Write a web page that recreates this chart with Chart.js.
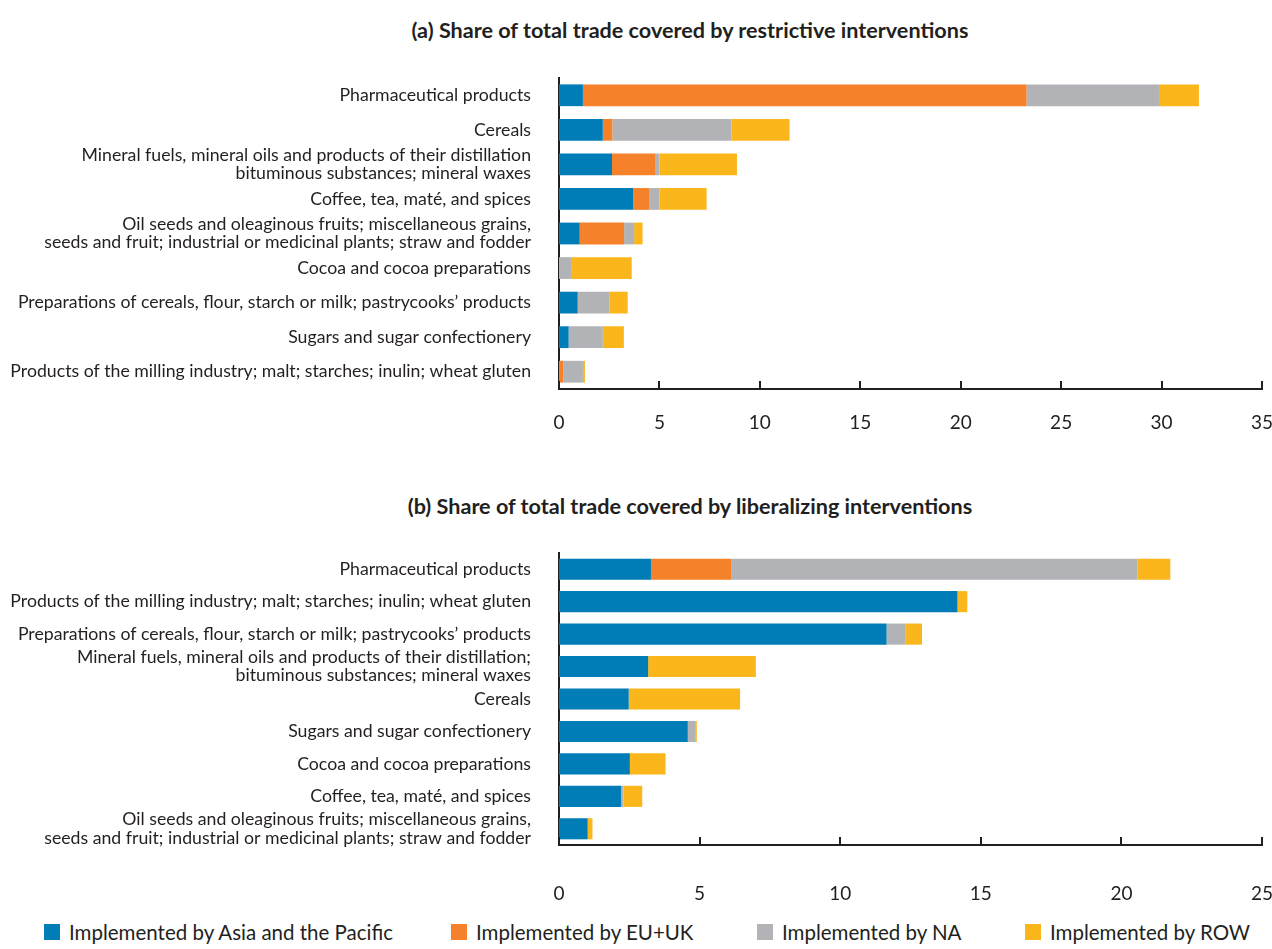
<!DOCTYPE html>
<html>
<head>
<meta charset="utf-8">
<script src="https://cdn.jsdelivr.net/npm/chart.js@4.4.0/dist/chart.umd.min.js"></script>
<style>
  body { margin: 0; background: #fff; }
  #page { position: relative; width: 1272px; height: 949px; font-family: Lato, sans-serif; color: #231f20; }
  .title { position: absolute; left: 690px; transform: translate(-50%, -50%); white-space: nowrap; font-weight: bold; font-size: 21.6px; }
  .box { position: absolute; left: 0; width: 1272px; }
  .leg { position: absolute; top: 932px; transform: translateY(-50%); white-space: nowrap; font-size: 20.5px; display: flex; align-items: center; }
  .leg span.sw { display: inline-block; width: 16px; height: 16px; margin-right: 9px; }
</style>
</head>
<body>
<div id="page">
  <div class="title" style="top:30px">(a) Share of total trade covered by restrictive interventions</div>
  <div class="box" style="top:70px;height:364px"><canvas id="chartA"></canvas></div>
  <div class="title" style="top:506px">(b) Share of total trade covered by liberalizing interventions</div>
  <div class="box" style="top:545px;height:362px"><canvas id="chartB"></canvas></div>
  <div id="legend"></div>
</div>
<script>
// series names + colours
var seriesNames = ['Implemented by Asia and the Pacific', 'Implemented by EU+UK', 'Implemented by NA', 'Implemented by ROW'];
var seriesColors = ['#007db7', '#f5822a', '#b1b3b6', '#fab61a'];

// (a) restrictive interventions
var catsA = [
  'Pharmaceutical products',
  'Cereals',
  ['Mineral fuels, mineral oils and products of their distillation', 'bituminous substances; mineral waxes'],
  'Coffee, tea, maté, and spices',
  ['Oil seeds and oleaginous fruits; miscellaneous grains,', 'seeds and fruit; industrial or medicinal plants; straw and fodder'],
  'Cocoa and cocoa preparations',
  'Preparations of cereals, flour, starch or milk; pastrycooks\u2019 products',
  'Sugars and sugar confectionery',
  'Products of the milling industry; malt; starches; inulin; wheat gluten'
];
var asiaA = [1.19, 2.18, 2.64, 3.70, 1.03, 0, 0.93, 0.48, 0];
var euA   = [22.09, 0.48, 2.14, 0.78, 2.21, 0, 0.02, 0, 0.22];
var naA   = [6.59, 5.93, 0.22, 0.52, 0.50, 0.60, 1.55, 1.70, 0.97];
var rowA  = [1.99, 2.89, 3.86, 2.35, 0.42, 3.02, 0.92, 1.05, 0.10];

// (b) liberalizing interventions
var catsB = [
  'Pharmaceutical products',
  'Products of the milling industry; malt; starches; inulin; wheat gluten',
  'Preparations of cereals, flour, starch or milk; pastrycooks\u2019 products',
  ['Mineral fuels, mineral oils and products of their distillation;', 'bituminous substances; mineral waxes'],
  'Cereals',
  'Sugars and sugar confectionery',
  'Cocoa and cocoa preparations',
  'Coffee, tea, maté, and spices',
  ['Oil seeds and oleaginous fruits; miscellaneous grains,', 'seeds and fruit; industrial or medicinal plants; straw and fodder']
];
var asiaB = [3.27, 14.17, 11.65, 3.17, 2.48, 4.58, 2.52, 2.21, 1.02];
var euB   = [2.85, 0, 0, 0, 0, 0, 0, 0, 0];
var naB   = [14.45, 0, 0.66, 0, 0, 0.26, 0, 0.08, 0];
var rowB  = [1.17, 0.35, 0.60, 3.83, 3.96, 0.06, 1.27, 0.67, 0.17];

var ink = '#231f20';
var legendX = [44, 451, 757, 1025];

// ticks on the inside of the x axis
var innerTicks = {
  id: 'innerTicks',
  afterDraw: function (chart) {
    var sx = chart.scales.x, ctx = chart.ctx;
    ctx.save();
    ctx.strokeStyle = ink;
    ctx.lineWidth = 2;
    sx.ticks.forEach(function (t) {
      var px = Math.round(sx.getPixelForValue(t.value));
      ctx.beginPath();
      ctx.moveTo(px, sx.top);
      ctx.lineTo(px, sx.top - 8);
      ctx.stroke();
    });
    ctx.restore();
  }
};

function makeChart(id, cats, series, xmax, barPct, labelPad, xHeight) {
  var ds = series.map(function (vals, i) {
    return {
      label: seriesNames[i],
      data: vals,
      backgroundColor: seriesColors[i],
      borderWidth: 0,
      barPercentage: barPct,
      categoryPercentage: 1
    };
  });
  return new Chart(document.getElementById(id), {
    type: 'bar',
    data: { labels: cats, datasets: ds },
    plugins: [innerTicks],
    options: {
      indexAxis: 'y',
      responsive: true,
      maintainAspectRatio: false,
      animation: false,
      layout: { padding: { top: 8, right: 10, left: 0, bottom: 0 } },
      plugins: { legend: { display: false }, tooltip: { enabled: false }, title: { display: false } },
      scales: {
        x: {
          stacked: true,
          min: 0,
          max: xmax,
          grid: { display: false, drawTicks: false },
          border: { display: true, color: ink, width: 2 },
          ticks: { stepSize: 5, padding: labelPad, color: ink, font: { family: 'Lato', size: 19 } },
          afterFit: function (s) { s.height = xHeight; s.paddingLeft = 0; s.paddingRight = 0; }
        },
        y: {
          stacked: true,
          grid: { display: false, drawTicks: false },
          border: { display: true, color: ink, width: 2 },
          ticks: { padding: 28, autoSkip: false, color: ink, font: { family: 'Lato', size: 17.7, lineHeight: 1.03 } },
          afterFit: function (s) { s.width = 559; s.paddingTop = 0; s.paddingBottom = 0; }
        }
      }
    }
  });
}

makeChart('chartA', catsA, [asiaA, euA, naA, rowA], 35, 0.63, 22, 45);
makeChart('chartB', catsB, [asiaB, euB, naB, rowB], 25, 0.65, 37, 62);

// legend
var leg = document.getElementById('legend');
seriesNames.forEach(function (name, i) {
  var item = document.createElement('div');
  item.className = 'leg';
  item.style.left = legendX[i] + 'px';
  var sw = document.createElement('span');
  sw.className = 'sw';
  sw.style.background = seriesColors[i];
  item.appendChild(sw);
  item.appendChild(document.createTextNode(name));
  leg.appendChild(item);
});
</script>
</body>
</html>
